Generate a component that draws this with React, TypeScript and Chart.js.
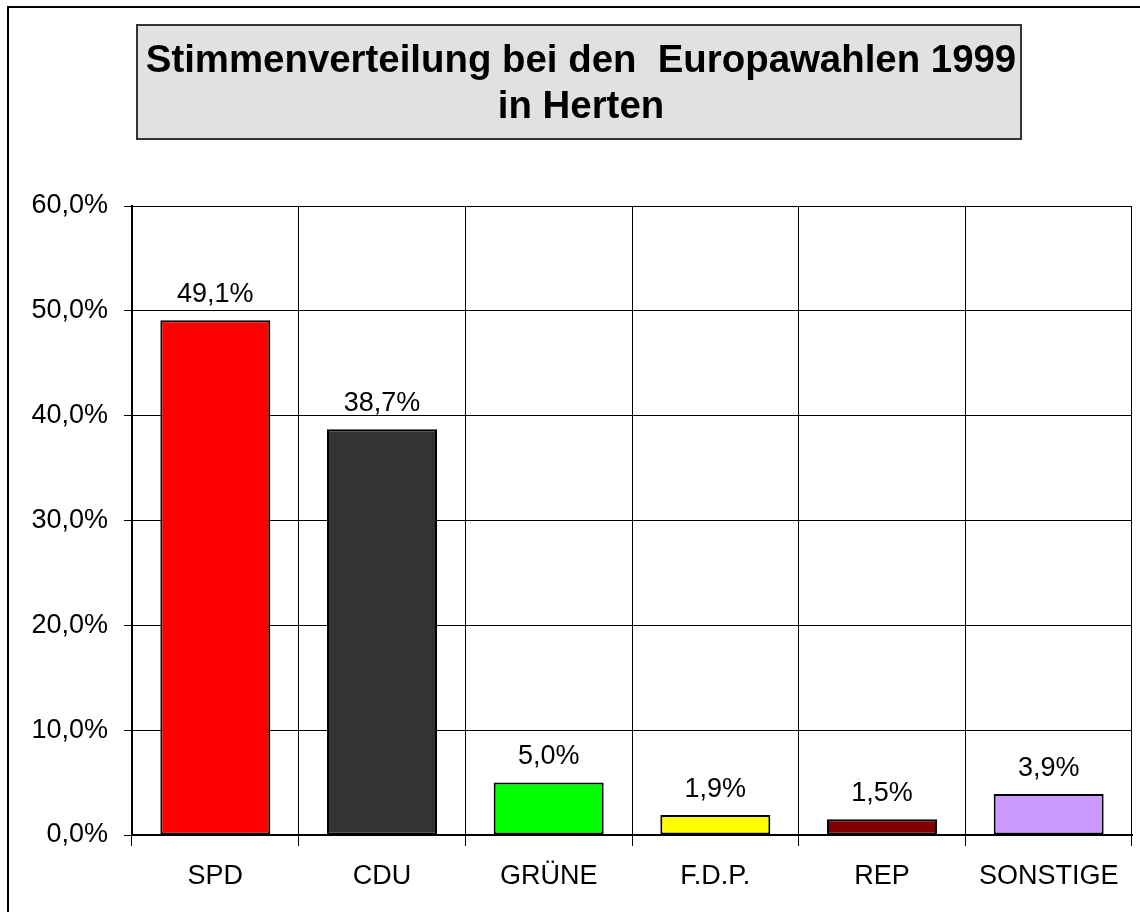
import React, { useEffect, useRef } from "react";
import { Chart, registerables } from "chart.js";

Chart.register(...registerables);

const categories = ["SPD", "CDU", "GRÜNE", "F.D.P.", "REP", "SONSTIGE"];
const shares = [49.1, 38.7, 5.0, 1.9, 1.5, 3.9];
const barColors = ["#ff0000", "#333333", "#00ff00", "#ffff00", "#800000", "#cc99ff"];
const yTickLabels = ["0,0%", "10,0%", "20,0%", "30,0%", "40,0%", "50,0%", "60,0%"];
const titleLines = ["Stimmenverteilung bei den  Europawahlen 1999", "in Herten"];

const FONT = '"Liberation Sans", Arial, sans-serif';

const fmt = (v: number) => v.toFixed(1).replace(".", ",") + "%";

const decorPlugin = {
  id: "decor",
  beforeDraw(chart: any) {
    const ctx = chart.ctx;
    ctx.save();
    ctx.fillStyle = "#ffffff";
    ctx.fillRect(0, 0, chart.width, chart.height);
    // outer frame
    ctx.strokeStyle = "#000000";
    ctx.lineWidth = 2;
    ctx.beginPath();
    ctx.moveTo(8, 912);
    ctx.lineTo(8, 7);
    ctx.lineTo(1140, 7);
    ctx.stroke();
    // title box
    ctx.fillStyle = "#e1e1e1";
    ctx.fillRect(137, 25, 884, 114);
    ctx.strokeStyle = "#333333";
    ctx.lineWidth = 2;
    ctx.strokeRect(137, 25, 884, 114);
    ctx.fillStyle = "#000000";
    ctx.font = "bold 38.4px " + FONT;
    ctx.textAlign = "center";
    ctx.textBaseline = "alphabetic";
    ctx.fillText(titleLines[0], 581, 72);
    ctx.fillText(titleLines[1], 581, 118);
    ctx.restore();
  },
  afterDatasetsDraw(chart: any) {
    const ctx = chart.ctx;
    const meta = chart.getDatasetMeta(0);
    ctx.save();
    ctx.fillStyle = "#000000";
    ctx.font = "27px " + FONT;
    ctx.textAlign = "center";
    ctx.textBaseline = "alphabetic";
    meta.data.forEach((bar: any, i: number) => {
      ctx.fillText(fmt(shares[i]), bar.x, bar.y - 18.5);
    });
    ctx.restore();
  },
};

export default function App() {
  const ref = useRef<HTMLCanvasElement>(null);

  useEffect(() => {
    if (!ref.current) return;
    const chart = new Chart(ref.current, {
      type: "bar",
      data: {
        labels: categories,
        datasets: [
          {
            data: shares,
            backgroundColor: barColors,
            borderColor: "#000000",
            borderWidth: 2,
            borderSkipped: false,
            barPercentage: 0.66,
            categoryPercentage: 1,
          },
        ],
      },
      options: {
        animation: false,
        responsive: false,
        devicePixelRatio: 1,
        layout: { padding: { left: 0, right: 8, top: 206, bottom: 0 } },
        plugins: {
          legend: { display: false },
          title: { display: false },
          tooltip: { enabled: false },
        },
        scales: {
          x: {
            offset: true,
            grid: {
              offset: true,
              color: "#000000",
              lineWidth: 1,
              tickLength: 11,
              drawTicks: true,
            },
            border: { display: true, color: "#000000", width: 2 },
            ticks: {
              color: "#000000",
              font: { family: FONT, size: 27 },
              padding: 14,
              maxRotation: 0,
              autoSkip: false,
            },
            afterFit: (scale: any) => {
              scale.height = 77;
            },
          },
          y: {
            min: 0,
            max: 60,
            grid: {
              color: "#000000",
              lineWidth: 1,
              tickLength: 8,
              drawTicks: true,
            },
            border: { display: true, color: "#000000", width: 2 },
            ticks: {
              stepSize: 10,
              color: "#000000",
              font: { family: FONT, size: 27 },
              padding: 16,
              callback: (_v: any, i: number) => yTickLabels[i],
            },
            afterFit: (scale: any) => {
              scale.width = 132;
            },
          },
        },
      },
      plugins: [decorPlugin],
    });
    return () => chart.destroy();
  }, []);

  return (
    <div style={{ position: "absolute", left: 0, top: 0, width: 1140, height: 912 }}>
      <canvas ref={ref} width={1140} height={912} style={{ display: "block", width: 1140, height: 912 }} />
    </div>
  );
}
